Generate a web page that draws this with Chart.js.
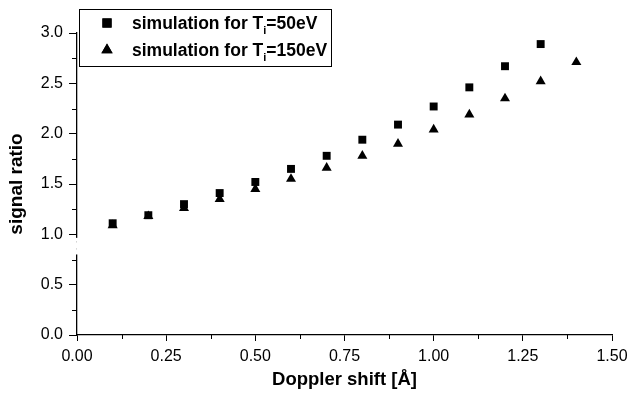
<!DOCTYPE html>
<html>
<head>
<meta charset="utf-8">
<script src="https://cdn.jsdelivr.net/npm/chart.js@4.4.1/dist/chart.umd.min.js"></script>
<style>
  html, body { margin: 0; padding: 0; background: #fff; }
  #wrap { width: 629px; height: 393px; }
</style>
</head>
<body>
<div id="wrap"><canvas id="grafica"></canvas></div>
<script>
// doppler shift [Å]
const shift50 = [0.1, 0.2, 0.3, 0.4, 0.5, 0.6, 0.7, 0.8, 0.9, 1.0, 1.1, 1.2, 1.3];
const ratio50 = [1.11, 1.19, 1.30, 1.41, 1.52, 1.65, 1.78, 1.94, 2.09, 2.27, 2.46, 2.67, 2.89];
const shift150 = [0.1, 0.2, 0.3, 0.4, 0.5, 0.6, 0.7, 0.8, 0.9, 1.0, 1.1, 1.2, 1.3, 1.4];
const ratio150 = [1.09, 1.18, 1.26, 1.35, 1.45, 1.55, 1.66, 1.78, 1.90, 2.04, 2.19, 2.35, 2.52, 2.71];

const xTicks = ['0.00', '0.25', '0.50', '0.75', '1.00', '1.25', '1.50'];
const yTicks = ['0.0', '0.5', '1.0', '1.5', '2.0', '2.5', '3.0'];
const xMinor = [0.125, 0.375, 0.625, 0.875, 1.125, 1.375];
const yMinor = [0.25, 0.75, 1.25, 1.75, 2.25, 2.75];

const FONT = "'Liberation Sans', Arial, sans-serif";

function toPoints(xs, ys) {
    return xs.map((x, i) => ({ x: x, y: ys[i] }));
}

// minor ticks + the little break in the y axis
const axisExtras = {
    id: 'axisExtras',
    afterDraw(chart) {
        const ctx = chart.ctx;
        const xs = chart.scales.x, ys = chart.scales.y;
        const area = chart.chartArea;
        ctx.save();
        ctx.strokeStyle = '#000';
        ctx.lineWidth = 1;
        ctx.beginPath();
        xMinor.forEach(v => {
            const px = Math.round(xs.getPixelForValue(v)) + 0.5;
            ctx.moveTo(px, area.bottom);
            ctx.lineTo(px, area.bottom + 4);
        });
        yMinor.forEach(v => {
            const py = Math.round(ys.getPixelForValue(v)) + 0.5;
            ctx.moveTo(area.left, py);
            ctx.lineTo(area.left - 5, py);
        });
        ctx.stroke();
        // axis break
        const top = ys.getPixelForValue(0.965);
        const bot = ys.getPixelForValue(0.80);
        ctx.fillStyle = '#fff';
        ctx.fillRect(area.left - 2, top, 4, bot - top);
        ctx.fillStyle = '#bbb';
        ctx.fillRect(area.left - 1, ys.getPixelForValue(0.93), 1, 1);
        ctx.fillRect(area.left - 1, ys.getPixelForValue(0.86), 1, 1);
        ctx.restore();
    }
};

// legend with subscript
const legendBox = {
    id: 'legendBox',
    afterDraw(chart) {
        const ctx = chart.ctx;
        const entries = [
            { style: 'rect', pre: 'simulation for T', sub: 'i', post: '=50eV', y: 23 },
            { style: 'triangle', pre: 'simulation for T', sub: 'i', post: '=150eV', y: 50 }
        ];
        ctx.save();
        ctx.strokeStyle = '#000';
        ctx.lineWidth = 1;
        ctx.strokeRect(79.5, 9.5, 252, 57);
        entries.forEach(e => {
            Chart.helpers.drawPoint(ctx, {
                pointStyle: e.style, radius: 6.5, rotation: 0,
                backgroundColor: '#000', borderColor: '#000', borderWidth: 0
            }, 107, e.y);
            ctx.fillStyle = '#000';
            ctx.fill();
            ctx.textBaseline = 'alphabetic';
            ctx.font = 'bold 17.5px ' + FONT;
            let x = 132;
            const base = e.y + 6;
            ctx.fillText(e.pre, x, base);
            x += ctx.measureText(e.pre).width;
            ctx.font = 'bold 11px ' + FONT;
            ctx.fillText(e.sub, x, base + 5);
            x += ctx.measureText(e.sub).width;
            ctx.font = 'bold 17.5px ' + FONT;
            ctx.fillText(e.post, x, base);
        });
        ctx.restore();
    }
};

const ctx = document.getElementById('grafica').getContext('2d');
new Chart(ctx, {
    type: 'scatter',
    data: {
        datasets: [{
            label: 'simulation for Ti=50eV',
            data: toPoints(shift50, ratio50),
            pointStyle: 'rect',
            pointRadius: 5.6,
            backgroundColor: '#000',
            borderColor: '#000',
            borderWidth: 0
        }, {
            label: 'simulation for Ti=150eV',
            data: toPoints(shift150, ratio150),
            pointStyle: 'triangle',
            pointRadius: 5.8,
            backgroundColor: '#000',
            borderColor: '#000',
            borderWidth: 0
        }]
    },
    options: {
        responsive: true,
        maintainAspectRatio: false,
        animation: false,
        layout: { padding: { left: 0, right: 17, top: 33, bottom: 0 } },
        plugins: {
            legend: { display: false },
            tooltip: { enabled: false }
        },
        scales: {
            x: {
                type: 'linear',
                min: 0,
                max: 1.5,
                afterBuildTicks: s => { s.ticks = xTicks.map(t => ({ value: parseFloat(t) })); },
                afterFit: s => { s.height = 58; s.paddingLeft = 0; s.paddingRight = 0; },
                ticks: {
                    callback: (v, i) => xTicks[i],
                    color: '#000',
                    font: { family: FONT, size: 16 },
                    padding: 6,
                    maxRotation: 0
                },
                grid: { drawOnChartArea: false, tickLength: 6, tickColor: '#000', tickWidth: 1 },
                border: { color: '#000', width: 1.3 },
                title: {
                    display: true,
                    text: 'Doppler shift [Å]',
                    color: '#000',
                    font: { family: FONT, size: 18.5, weight: 'bold' },
                    padding: { top: 0, bottom: 2 }
                }
            },
            y: {
                type: 'linear',
                min: 0,
                max: 3,
                afterBuildTicks: s => { s.ticks = yTicks.map(t => ({ value: parseFloat(t) })); },
                afterFit: s => { s.width = 77; s.paddingTop = 0; s.paddingBottom = 0; },
                ticks: {
                    callback: (v, i) => yTicks[i],
                    color: '#000',
                    font: { family: FONT, size: 16 },
                    padding: 6
                },
                grid: { drawOnChartArea: false, tickLength: 8, tickColor: '#000', tickWidth: 1 },
                border: { color: '#000', width: 1.3 },
                title: {
                    display: true,
                    text: 'signal ratio',
                    color: '#000',
                    font: { family: FONT, size: 19, weight: 'bold' },
                    padding: { top: 5, bottom: 0 }
                }
            }
        }
    },
    plugins: [axisExtras, legendBox]
});
</script>
</body>
</html>
